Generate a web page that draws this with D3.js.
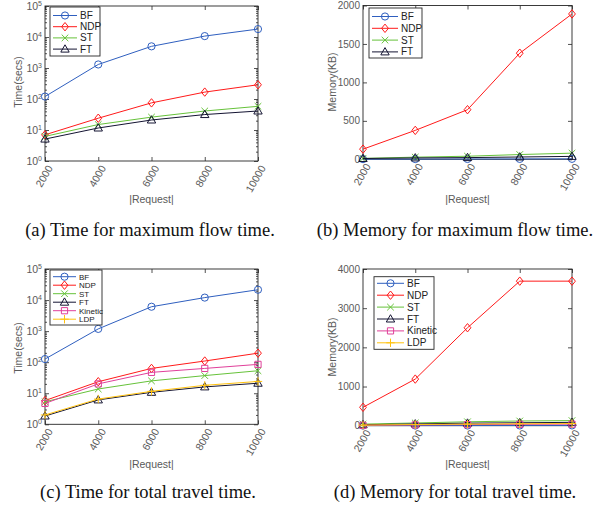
<!DOCTYPE html>
<html><head><meta charset="utf-8">
<script src="https://cdn.jsdelivr.net/npm/d3@7"></script>
<style>body{margin:0;background:#fff} svg{display:block}</style>
</head><body>
<svg id="c" width="612" height="510"></svg>
<script>
// ---------- data ----------
const requests = [2000, 4000, 6000, 8000, 10000];
const xTickLabels = ["2000", "4000", "6000", "8000", "10000"];
const logTickExps = [0, 1, 2, 3, 4, 5];
const memTicksB = [0, 500, 1000, 1500, 2000];
const memTicksD = [0, 1000, 2000, 3000, 4000];
const seriesNames4 = ["BF", "NDP", "ST", "FT"];
const seriesNames6 = ["BF", "NDP", "ST", "FT", "Kinetic", "LDP"];

// (a) time, maximum flow time
const aBF  = [120, 1300, 5000, 10700, 18000];
const aNDP = [7, 24, 75, 167, 288];
const aST  = [6.2, 15, 26, 41, 58];
const aFT  = [5.1, 11.6, 21, 31.5, 41];
// (b) memory, maximum flow time
const bBF  = [2, 3, 4, 5, 6];
const bNDP = [132, 376, 645, 1380, 1890];
const bST  = [12, 28, 40, 62, 80];
const bFT  = [10, 18, 22, 30, 38];
// (c) time, total travel time
const cBF  = [126, 1180, 6100, 12000, 21500];
const cNDP = [5.8, 23.5, 63, 109, 195];
const cST  = [5.3, 13.7, 25, 37, 53];
const cFT  = [1.85, 6.1, 10.7, 16, 21];
const cKinetic = [4.7, 20, 47, 63, 85];
const cLDP = [2, 6.5, 11.5, 18, 24];
// (d) memory, total travel time
const dBF  = [3, 4, 5, 6, 7];
const dNDP = [470, 1190, 2500, 3690, 3690];
const dST  = [40, 70, 100, 120, 130];
const dFT  = [25, 45, 65, 75, 85];
const dKinetic = [10, 20, 28, 35, 40];
const dLDP = [15, 30, 40, 50, 55];

const captions = ["(a) Time for maximum flow time.", "(b) Memory for maximum flow time.",
                  "(c) Time for total travel time.", "(d) Memory for total travel time."];

// ---------- styles ----------
const styles = {
  BF: {color: "#2f5fbf", marker: "circle"},
  NDP: {color: "#ff1a1a", marker: "diamond"},
  ST: {color: "#66c23a", marker: "x"},
  FT: {color: "#141432", marker: "triangle"},
  Kinetic: {color: "#e0409a", marker: "square"},
  LDP: {color: "#ffc20e", marker: "plus"}
};
const AX = "#262626", TXT = "#5a5a5a";

function markerPath(type) {
  const p = d3.path();
  if (type === "circle") { p.moveTo(3.6, 0); p.arc(0, 0, 3.6, 0, 2 * Math.PI); }
  else if (type === "diamond") { p.moveTo(0, -4.2); p.lineTo(3.4, 0); p.lineTo(0, 4.2); p.lineTo(-3.4, 0); p.closePath(); }
  else if (type === "triangle") { p.moveTo(0, -4.3); p.lineTo(4.2, 3); p.lineTo(-4.2, 3); p.closePath(); }
  else if (type === "square") { p.rect(-3.1, -3.1, 6.2, 6.2); }
  else if (type === "x") { p.moveTo(-3.3, -3.3); p.lineTo(3.3, 3.3); p.moveTo(3.3, -3.3); p.lineTo(-3.3, 3.3); }
  else if (type === "plus") { p.moveTo(-4.2, 0); p.lineTo(4.2, 0); p.moveTo(0, -4.2); p.lineTo(0, 4.2); }
  return p.toString();
}

const svg = d3.select("#c");

function drawPanel(cfg) {
  const g = svg.append("g");
  const x = d3.scaleLinear().domain([2000, 10000]).range([cfg.x0, cfg.x1]);
  const y = cfg.log ? d3.scaleLog().domain([1, 1e5]).range([cfg.y1, cfg.y0])
                    : d3.scaleLinear().domain([0, cfg.ymax]).range([cfg.y1, cfg.y0]);
  const W = cfg.x1 - cfg.x0, H = cfg.y1 - cfg.y0;

  const yl = cfg.log ? d3.axisRight(y).tickValues(logTickExps.map(e => Math.pow(10, e)))
                     : d3.axisRight(y).tickValues(cfg.yticks);
  const tickStyle = sel => { sel.select(".domain").remove(); sel.selectAll("text").remove();
    sel.selectAll("line").attr("stroke", AX).attr("stroke-width", 0.8); };
  g.append("g").attr("transform", `translate(${cfg.x0},0)`).call(yl.tickSize(4)).call(tickStyle);
  g.append("g").attr("transform", `translate(${cfg.x1},0)`).call(d3.axisLeft(y).tickValues(yl.tickValues()).tickSize(4)).call(tickStyle);
  if (cfg.log) {
    const minors = [];
    for (let e = 0; e < 5; e++) for (let m = 2; m <= 9; m++) minors.push(m * Math.pow(10, e));
    g.append("g").attr("transform", `translate(${cfg.x0},0)`).call(d3.axisRight(y).tickValues(minors).tickSize(2)).call(tickStyle);
    g.append("g").attr("transform", `translate(${cfg.x1},0)`).call(d3.axisLeft(y).tickValues(minors).tickSize(2)).call(tickStyle);
  }
  g.append("g").attr("transform", `translate(0,${cfg.y1})`).call(d3.axisTop(x).tickValues(requests).tickSize(4)).call(tickStyle);
  g.append("g").attr("transform", `translate(0,${cfg.y0})`).call(d3.axisBottom(x).tickValues(requests).tickSize(4)).call(tickStyle);

  g.append("rect").attr("x", cfg.x0).attr("y", cfg.y0).attr("width", W).attr("height", H)
    .attr("fill", "none").attr("stroke", AX).attr("stroke-width", 0.9);

  if (cfg.log) {
    logTickExps.forEach(e => {
      const t = g.append("text").attr("x", cfg.x0 - 3).attr("y", y(Math.pow(10, e)) + 4)
        .attr("text-anchor", "end").attr("fill", TXT).attr("font-family", "Liberation Sans, Arial, sans-serif")
        .attr("font-size", 10.5);
      t.append("tspan").text("10");
      t.append("tspan").attr("dy", -4.2).attr("font-size", 7).text(e);
    });
  } else {
    cfg.yticks.forEach(v => {
      g.append("text").attr("x", cfg.x0 - 3).attr("y", y(v) + 3.6).attr("text-anchor", "end")
        .attr("fill", TXT).attr("font-family", "Liberation Sans, Arial, sans-serif").attr("font-size", 10).text(v);
    });
  }
  requests.forEach((r, i) => {
    const tx = x(r) + 5, ty = cfg.y1 + 5;
    g.append("text").attr("transform", `translate(${tx},${ty}) rotate(-60)`).attr("dy", "0.35em")
      .attr("text-anchor", "end").attr("fill", TXT).attr("font-family", "Liberation Sans, Arial, sans-serif")
      .attr("font-size", 10.5).text(xTickLabels[i]);
  });
  g.append("text").attr("transform", `translate(${cfg.ylx},${cfg.yly}) rotate(-90)`).attr("dy", "0.35em")
    .attr("text-anchor", "middle").attr("fill", TXT).attr("font-family", "Liberation Sans, Arial, sans-serif")
    .attr("font-size", 10.5).text(cfg.ylabel);
  g.append("text").attr("x", (cfg.x0 + cfg.x1) / 2).attr("y", cfg.xly).attr("dy", "0.35em")
    .attr("text-anchor", "middle").attr("fill", TXT).attr("font-family", "Liberation Sans, Arial, sans-serif")
    .attr("font-size", 10.5).text("|Request|");

  const line = d3.line().x((d, i) => x(requests[i])).y(d => y(d));
  cfg.series.forEach(s => {
    const st = styles[s.name];
    g.append("path").datum(s.values).attr("d", line).attr("fill", "none")
      .attr("stroke", st.color).attr("stroke-width", 1);
    g.selectAll(null).data(s.values).enter().append("path")
      .attr("transform", (d, i) => `translate(${x(requests[i])},${y(d)})`)
      .attr("d", markerPath(st.marker)).attr("fill", "none").attr("stroke", st.color).attr("stroke-width", 1);
  });

  const L = cfg.legend;
  g.append("rect").attr("x", L.x).attr("y", L.y).attr("width", L.w).attr("height", L.h)
    .attr("fill", "#fff").attr("stroke", AX).attr("stroke-width", 0.9);
  cfg.series.forEach((s, i) => {
    const st = styles[s.name];
    const ry = L.y + L.pad + i * L.step;
    g.append("line").attr("x1", L.x + 3).attr("x2", L.x + 3 + L.len).attr("y1", ry).attr("y2", ry)
      .attr("stroke", st.color).attr("stroke-width", 1);
    g.append("path").attr("transform", `translate(${L.x + 3 + L.len / 2},${ry})`)
      .attr("d", markerPath(st.marker)).attr("fill", "none").attr("stroke", st.color).attr("stroke-width", 1);
    g.append("text").attr("x", L.x + 3 + L.len + 3).attr("y", ry).attr("dy", "0.35em")
      .attr("fill", "#222").attr("font-family", "Liberation Sans, Arial, sans-serif")
      .attr("font-size", L.fs).text(s.name);
  });

  svg.append("text").attr("x", cfg.capx).attr("y", cfg.capy).attr("text-anchor", "middle")
    .attr("fill", "#111").attr("font-family", "Liberation Serif, Times New Roman, serif")
    .attr("font-size", 18.5).text(cfg.caption);
}

const mk = (names, arrs) => names.map((n, i) => ({name: n, values: arrs[i]}));

drawPanel({x0: 45, x1: 258, y0: 6, y1: 161, log: true, ylabel: "Time(secs)", ylx: 18, yly: 82, xly: 199,
  series: mk(seriesNames4, [aBF, aNDP, aST, aFT]),
  legend: {x: 50, y: 7, w: 50, h: 49, pad: 8.5, step: 11.2, len: 24, fs: 10},
  caption: captions[0], capx: 150, capy: 236});
drawPanel({x0: 363, x1: 572, y0: 5.5, y1: 159.3, log: false, ymax: 2000, yticks: memTicksB, ylabel: "Memory(KB)", ylx: 332, yly: 82, xly: 199,
  series: mk(seriesNames4, [bBF, bNDP, bST, bFT]),
  legend: {x: 369, y: 8, w: 53, h: 50, pad: 8.5, step: 11.8, len: 26, fs: 10},
  caption: captions[1], capx: 455, capy: 236});
drawPanel({x0: 45, x1: 258, y0: 269, y1: 424.3, log: true, ylabel: "Time(secs)", ylx: 18, yly: 348, xly: 464,
  series: mk(seriesNames6, [cBF, cNDP, cST, cFT, cKinetic, cLDP]),
  legend: {x: 50, y: 270, w: 52, h: 55, pad: 6.7, step: 8.5, len: 23, fs: 8},
  caption: captions[2], capx: 148, capy: 498});
drawPanel({x0: 363, x1: 572, y0: 269, y1: 425.7, log: false, ymax: 4000, yticks: memTicksD, ylabel: "Memory(KB)", ylx: 332, yly: 347, xly: 464,
  series: mk(seriesNames6, [dBF, dNDP, dST, dFT, dKinetic, dLDP]),
  legend: {x: 374, y: 276.7, w: 60, h: 72.6, pad: 6.6, step: 11.9, len: 27, fs: 10},
  caption: captions[3], capx: 455, capy: 498});
</script>
</body></html>
